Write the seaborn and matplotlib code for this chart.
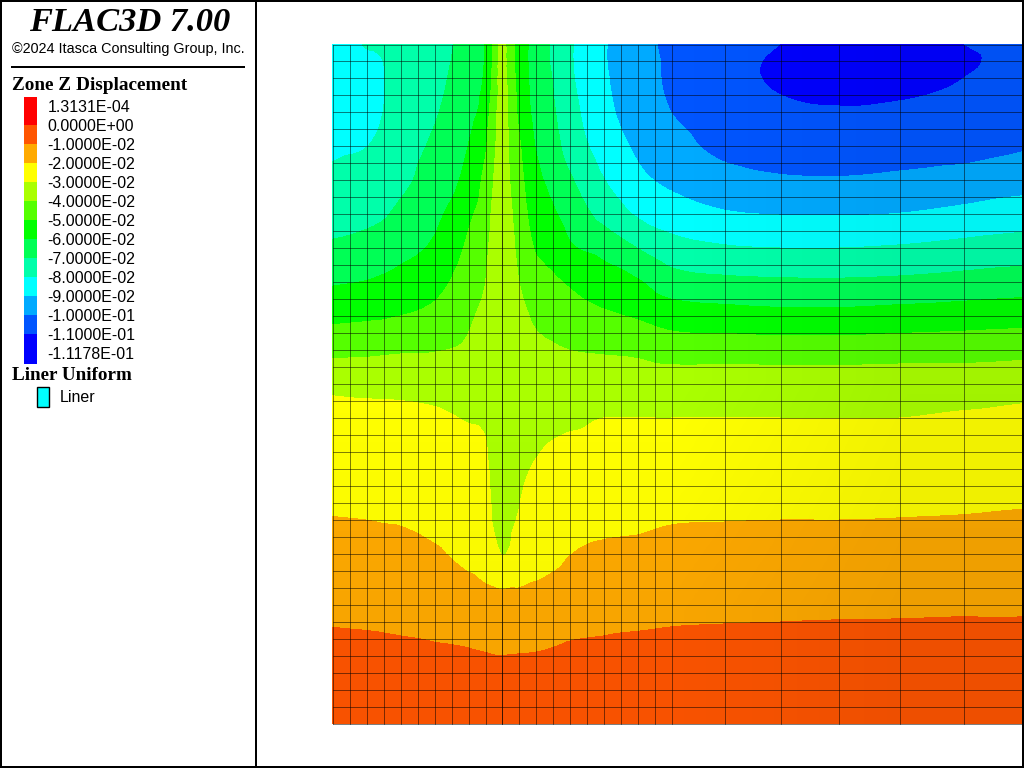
import numpy as np
import pandas as pd
import matplotlib
matplotlib.use("Agg")
import matplotlib.pyplot as plt
import matplotlib.tri as mtri
from matplotlib.colors import ListedColormap, BoundaryNorm
import seaborn as sns

col_x = [332, 366, 383, 400, 434, 468, 485, 493, 502, 510, 518, 535,
         552, 569, 603, 637, 671, 724, 780, 839, 899, 964, 1022]
row_y = [44, 61, 78, 112, 146, 180, 214, 248, 282, 316, 350, 384,
         418, 452, 486, 520, 554, 588, 622, 656, 690, 724]

# z displacement in units of 1e-2, one list per column
d332 = [-8.4, -8.4, -8.4, -8.3, -8.15, -7.8, -7.35, -6.85, -6.1, -5.25, -4.25, -3.25, -2.65, -2.4, -2.2, -1.97, -1.65, -1.35, -1.05, -0.72, -0.36, -0.02]
d366 = [-7.97, -8.1, -8.2, -8.25, -8.02, -7.6, -7.25, -6.65, -5.97, -5.15, -4.2, -3.3, -2.7, -2.45, -2.25, -2.0, -1.7, -1.4, -1.08, -0.75, -0.38, -0.02]
d383 = [-7.92, -8.0, -8.03, -8.0, -7.8, -7.45, -7.1, -6.5, -5.85, -5.1, -4.15, -3.3, -2.72, -2.48, -2.25, -2.03, -1.7, -1.4, -1.1, -0.78, -0.4, -0.02]
d400 = [-7.75, -7.75, -7.7, -7.6, -7.45, -7.25, -6.8, -6.3, -5.7, -5.0, -4.1, -3.3, -2.75, -2.5, -2.3, -2.05, -1.75, -1.45, -1.13, -0.8, -0.42, -0.02]
d434 = [-7.35, -7.3, -7.25, -7.1, -6.85, -6.55, -6.25, -5.85, -5.35, -4.75, -4.05, -3.35, -2.85, -2.6, -2.4, -2.2, -1.9, -1.55, -1.2, -0.85, -0.42, -0.02]
d468 = [-6.65, -6.6, -6.5, -6.3, -6.0, -5.7, -5.2, -4.85, -4.5, -4.15, -3.85, -3.45, -3.05, -2.75, -2.55, -2.4, -2.25, -1.75, -1.3, -0.9, -0.45, -0.02]
d485 = [-6.0, -5.95, -5.85, -5.55, -5.15, -4.75, -4.5, -4.25, -4.03, -3.75, -3.55, -3.35, -3.12, -2.9, -2.75, -2.6, -2.45, -1.93, -1.42, -0.95, -0.48, -0.02]
d493 = [-5.0, -4.9, -4.8, -4.5, -4.3, -4.05, -3.85, -3.7, -3.55, -3.45, -3.4, -3.35, -3.3, -3.25, -3.15, -3.05, -2.65, -1.98, -1.5, -0.98, -0.5, -0.02]
d502 = [-3.7, -3.65, -3.6, -3.6, -3.55, -3.55, -3.5, -3.45, -3.4, -3.35, -3.35, -3.3, -3.25, -3.25, -3.2, -3.15, -3.02, -2.03, -1.5, -1.0, -0.5, -0.02]
d510 = [-4.6, -4.55, -4.45, -4.3, -4.15, -4.02, -3.85, -3.7, -3.55, -3.4, -3.35, -3.3, -3.25, -3.2, -3.18, -3.15, -2.9, -2.0, -1.5, -0.98, -0.5, -0.02]
d518 = [-5.3, -5.3, -5.25, -5.1, -4.8, -4.6, -4.4, -4.2, -3.95, -3.65, -3.45, -3.3, -3.2, -3.15, -3.1, -2.95, -2.5, -2.0, -1.45, -0.97, -0.5, -0.02]
d535 = [-6.4, -6.4, -6.35, -6.25, -6.0, -5.7, -5.4, -5.05, -4.6, -4.15, -3.75, -3.4, -3.2, -3.05, -2.8, -2.6, -2.45, -1.9, -1.4, -0.95, -0.48, -0.02]
d552 = [-7.1, -7.1, -7.0, -6.85, -6.6, -6.25, -5.85, -5.35, -4.85, -4.35, -3.9, -3.5, -3.2, -2.9, -2.65, -2.45, -2.28, -1.75, -1.3, -0.9, -0.45, -0.02]
d569 = [-7.85, -7.85, -7.8, -7.6, -7.35, -6.85, -6.35, -5.85, -5.1, -4.55, -4.0, -3.6, -3.15, -2.8, -2.55, -2.3, -2.03, -1.6, -1.22, -0.83, -0.42, -0.02]
d603 = [-8.9, -8.9, -8.85, -8.7, -8.4, -7.95, -7.3, -6.3, -5.55, -4.85, -4.1, -3.45, -3.0, -2.75, -2.5, -2.2, -1.85, -1.5, -1.15, -0.78, -0.38, -0.02]
d637 = [-9.6, -9.6, -9.55, -9.45, -9.15, -8.75, -8.1, -7.0, -5.9, -5.1, -4.2, -3.45, -3.0, -2.72, -2.42, -2.15, -1.8, -1.42, -1.1, -0.72, -0.36, -0.02]
d671 = [-10.2, -10.15, -10.15, -10.0, -9.65, -9.2, -8.5, -7.6, -6.55, -5.45, -4.45, -3.45, -3.0, -2.7, -2.4, -2.05, -1.72, -1.38, -1.05, -0.7, -0.35, -0.02]
d724 = [-10.6, -10.7, -10.7, -10.5, -10.25, -9.65, -8.9, -7.9, -6.77, -5.6, -4.45, -3.45, -3.0, -2.65, -2.35, -2.02, -1.68, -1.35, -1.02, -0.67, -0.33, -0.02]
d780 = [-11.0, -11.1, -11.1, -10.85, -10.5, -9.88, -9.03, -8.0, -6.85, -5.7, -4.5, -3.5, -3.0, -2.65, -2.33, -2.0, -1.65, -1.3, -1.0, -0.66, -0.32, -0.02]
d839 = [-11.17, -11.17, -11.15, -10.95, -10.55, -9.92, -9.05, -8.0, -6.87, -5.7, -4.5, -3.5, -3.0, -2.65, -2.33, -2.0, -1.65, -1.32, -0.98, -0.65, -0.32, -0.02]
d899 = [-11.15, -11.15, -11.15, -10.9, -10.5, -9.8, -8.98, -7.9, -6.8, -5.6, -4.45, -3.45, -3.0, -2.65, -2.3, -1.98, -1.65, -1.3, -0.97, -0.65, -0.32, -0.02]
d964 = [-11.0, -11.1, -11.0, -10.8, -10.4, -9.6, -8.75, -7.7, -6.65, -5.5, -4.4, -3.45, -2.9, -2.55, -2.25, -1.95, -1.6, -1.3, -0.95, -0.65, -0.3, -0.02]
d1022 = [-10.7, -10.7, -10.6, -10.4, -10.1, -9.4, -8.5, -7.55, -6.5, -5.4, -4.3, -3.4, -2.78, -2.5, -2.2, -1.9, -1.55, -1.25, -0.95, -0.6, -0.3, -0.02]

disp_columns = [d332, d366, d383, d400, d434, d468, d485, d493, d502, d510, d518, d535,
                d552, d569, d603, d637, d671, d724, d780, d839, d899, d964, d1022]

# contour bands, same units
levels = [-11.178, -11, -10, -9, -8, -7, -6, -5, -4, -3, -2, -1, 0, 0.013131]
band_colors = ["#0000ff", "#0055ff", "#00aaff", "#00ffff", "#00ffaa", "#00ff55", "#00ff00",
               "#55ff00", "#aaff00", "#ffff00", "#ffaa00", "#ff5500", "#ff0000"]
legend_labels = ["1.3131E-04", "0.0000E+00", "-1.0000E-02", "-2.0000E-02", "-3.0000E-02",
                 "-4.0000E-02", "-5.0000E-02", "-6.0000E-02", "-7.0000E-02", "-8.0000E-02",
                 "-9.0000E-02", "-1.0000E-01", "-1.1000E-01", "-1.1178E-01"]

# mesh lines
mesh_x = [332.5, 349.5, 366.5, 383.5, 400.5, 417.5, 434.5, 451.5, 468.5, 485.5, 501.5, 518.5,
          535.5, 552.5, 569.5, 586.5, 603.5, 620.5, 637.5, 654.5, 671.5, 724.5, 780.5,
          838.5, 899.5, 963.5]
mesh_y = list(np.linspace(44.5, 723.5, 41))

sns.set_theme(style="white")
plt.rcParams["font.family"] = ["Liberation Sans", "DejaVu Sans"]

fig = plt.figure(figsize=(10.24, 7.68), dpi=100)
ax = fig.add_axes([0, 0, 1, 1])
ax.axis("off")

cmap = ListedColormap(sns.color_palette(band_colors))
norm = BoundaryNorm(levels, cmap.N)

# cubic refinement of the read values so the band edges come out curved
xx, yy = np.meshgrid(col_x, row_y)
grid = np.column_stack(disp_columns)
triang = mtri.Triangulation(xx.ravel(), yy.ravel())
refiner = mtri.UniformTriRefiner(triang)
fine_tri, fine_z = refiner.refine_field(grid.ravel(), mtri.CubicTriInterpolator(triang, grid.ravel(), kind="geom"), subdiv=3)
fine_z = np.clip(fine_z, levels[0] + 1e-4, levels[-1] - 1e-4)
ax.tricontourf(fine_tri, fine_z, levels=levels, cmap=cmap, norm=norm, antialiased=False, zorder=1)

# slight lighting falloff towards the right and the bottom
shade = np.zeros((3, 3, 4))
shade[..., 3] = [[0.0, 0.0, 0.05], [0.0, 0.0, 0.05], [0.03, 0.03, 0.07]]
ax.imshow(shade, extent=(332, 1022, 724, 44), aspect="auto", interpolation="bilinear", zorder=2)

rows = []
for i, x in enumerate(mesh_x):
    rows += [{"line": f"v{i}", "x": x, "y": mesh_y[0]}, {"line": f"v{i}", "x": x, "y": mesh_y[-1]}]
for j, y in enumerate(mesh_y):
    rows += [{"line": f"h{j}", "x": 332.5, "y": y}, {"line": f"h{j}", "x": 1022, "y": y}]
mesh = pd.DataFrame(rows)
sns.lineplot(data=mesh, x="x", y="y", units="line", estimator=None, sort=False, color="black",
             linewidth=0.72, alpha=0.5, legend=False, ax=ax, zorder=3)
# tunnel axis shows up darker
ax.plot([501.5, 501.5], [mesh_y[0], mesh_y[-1]], color="black", lw=0.72, alpha=0.5, zorder=3)
ax.set_xlabel("")
ax.set_ylabel("")

# frame and side panel
ax.axvline(1, color="black", lw=1.44, zorder=5)
ax.axvline(1023, color="black", lw=1.44, zorder=5)
ax.axvline(256, color="black", lw=1.44, zorder=5)
ax.axhline(1, color="black", lw=1.44, zorder=5)
ax.axhline(767, color="black", lw=1.44, zorder=5)
ax.plot([11, 245], [67, 67], color="black", lw=1.44, solid_capstyle="butt")

ax.text(130, 22.5, "FLAC3D 7.00", family="Liberation Serif", style="italic", weight="bold",
        fontsize=24.8, ha="center", va="center", color="black")
ax.text(128, 49, "©2024 Itasca Consulting Group, Inc.", fontsize=10.4, ha="center", va="center", color="black")
ax.text(12, 86, "Zone Z Displacement", family="Liberation Serif", weight="bold", fontsize=13.9,
        ha="left", va="center", color="black")

# legend swatches, top to bottom, red first
swatch_edges = [97, 125, 144, 163, 182, 201, 220, 239, 258, 277, 296, 315, 334, 364]
for k, color in enumerate(band_colors[::-1]):
    ax.bar(30.5, swatch_edges[k + 1] - swatch_edges[k], width=13, bottom=swatch_edges[k],
           color=color, linewidth=0)
for k, label in enumerate(legend_labels):
    ax.text(47.5, 107.5 + 19 * k, label, fontsize=11.5, ha="left", va="center", color="black")

ax.text(12, 376, "Liner Uniform", family="Liberation Serif", weight="bold", fontsize=13.8,
        ha="left", va="center", color="black")
ax.bar(42.5, 20, width=12, bottom=386.5, color="#00ffff", edgecolor="black", linewidth=1)
ax.text(60, 397.5, "Liner", fontsize=11.5, ha="left", va="center", color="black")

ax.set_xlim(0, 1024)
ax.set_ylim(768, 0)
fig.savefig("out.png", dpi=100)
